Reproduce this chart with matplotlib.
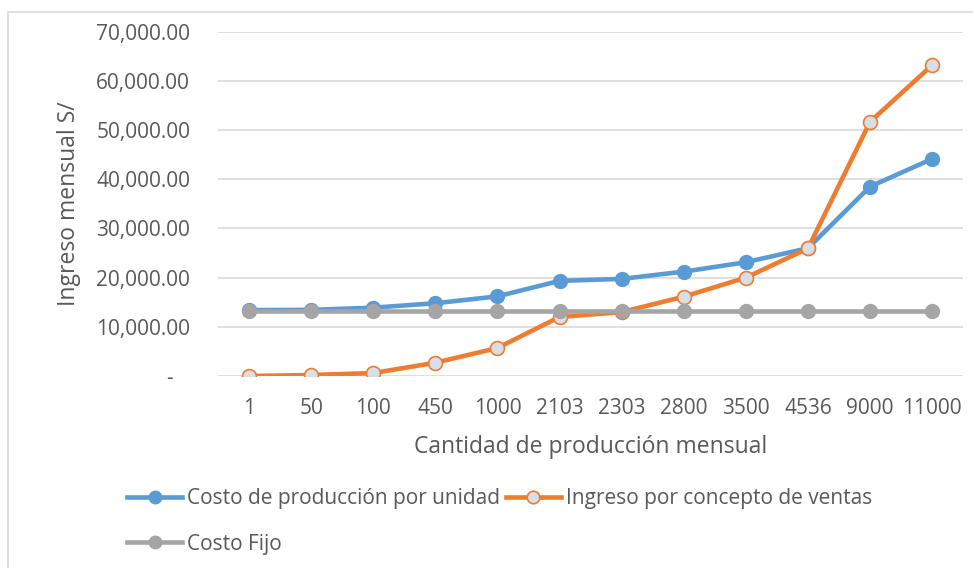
import matplotlib
matplotlib.use("Agg")
import matplotlib.pyplot as plt
from matplotlib.patches import Rectangle
from matplotlib.ticker import FuncFormatter

# data
cantidades = ["1", "50", "100", "450", "1000", "2103", "2303", "2800", "3500", "4536", "9000", "11000"]
costo_produccion = [13400, 13450, 13900, 14800, 16200, 19350, 19750, 21230, 23140, 26000, 38520, 44160]
ingreso_ventas = [0, 200, 600, 2700, 5700, 12000, 13000, 16140, 20000, 25950, 51700, 63230]
costo_fijo = [13300] * 12

TEXT = "#595959"
plt.rcParams["font.family"] = ["Open Sans", "DejaVu Sans"]

fig = plt.figure(figsize=(9.73, 5.68), dpi=100)
ax = fig.add_axes([0.224, 0.338, 0.766, 0.606])

x = list(range(len(cantidades)))
ax.plot(x, costo_produccion, color="#5B9BD5", lw=3.3, marker="o", ms=10,
        mfc="#5B9BD5", mec="#5B9BD5", label="Costo de producción por unidad", zorder=3)
ax.plot(x, ingreso_ventas, color="#ED7D31", lw=3.3, marker="o", ms=10,
        mfc="#D9DDE6", mec="#ED7D31", mew=1.2, label="Ingreso por concepto de ventas", zorder=4)
ax.plot(x, costo_fijo, color="#A5A5A5", lw=3.3, marker="o", ms=10,
        mfc="#A5A5A5", mec="#A5A5A5", label="Costo Fijo", zorder=5)

ax.set_xlim(-0.5, len(cantidades) - 0.5)
ax.set_ylim(0, 70000)
ax.set_yticks(range(0, 70001, 10000))
ax.yaxis.set_major_formatter(FuncFormatter(lambda v, p: "-   " if v == 0 else f"{v:,.2f}"))
ax.set_xticks(x)
ax.set_xticklabels(cantidades)

ax.grid(axis="y", color="#D9D9D9", lw=1.2)
ax.set_axisbelow(True)
for s in ax.spines.values():
    s.set_visible(False)
ax.tick_params(length=0, labelsize=15, colors=TEXT)
ax.tick_params(axis="y", pad=20)
ax.tick_params(axis="x", pad=16)

ax.set_xlabel("Cantidad de producción mensual", fontsize=16.5, color=TEXT, labelpad=11)
ax.set_ylabel("Ingreso mensual S/", fontsize=16.5, color=TEXT, labelpad=11)

h, l = ax.get_legend_handles_labels()
order = [0, 2, 1]
leg = fig.legend([h[i] for i in order], [l[i] for i in order], ncol=2,
                 loc="upper left", bbox_to_anchor=(127 / 973, 1 - 488 / 568), frameon=False,
                 fontsize=15, handlelength=2.65, handletextpad=0.25, columnspacing=0.25,
                 labelspacing=1.18, borderaxespad=0, borderpad=0, markerscale=0.9)
for t in leg.get_texts():
    t.set_color(TEXT)

# chart area border
fig.patches.append(Rectangle((8 / 973, -0.1), 1.2, 1.1 - 12 / 568, transform=fig.transFigure,
                             fill=False, edgecolor="#D9D9D9", lw=1.2))

fig.savefig("out.png", dpi=100)
